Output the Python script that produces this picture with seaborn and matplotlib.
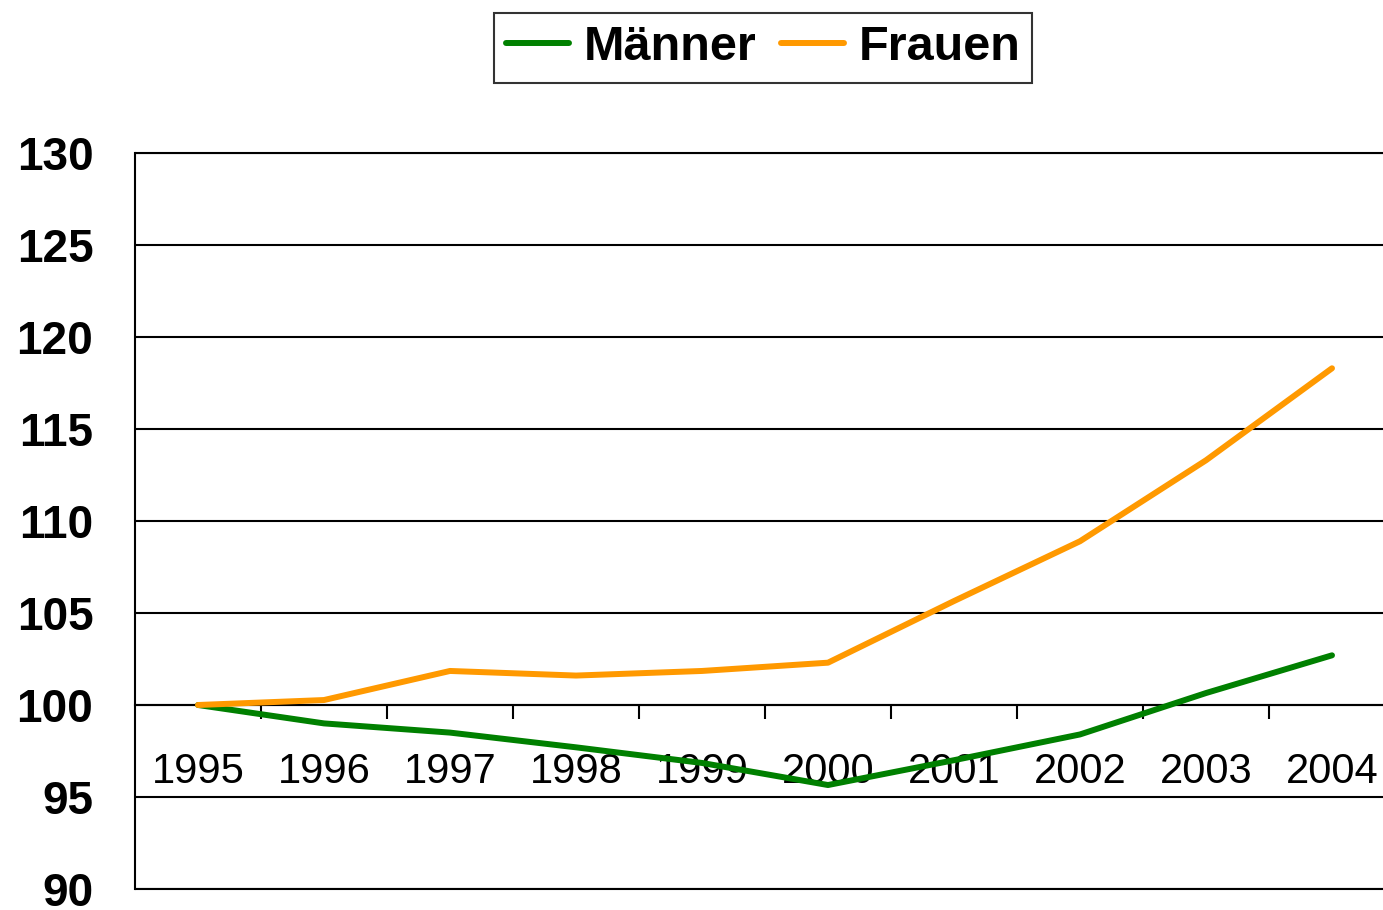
import matplotlib
matplotlib.use("Agg")
import matplotlib.pyplot as plt
import seaborn as sns
import pandas as pd
import numpy as np

years = [1995, 1996, 1997, 1998, 1999, 2000, 2001, 2002, 2003, 2004]
maenner = [100.0, 99.0, 98.5, 97.7, 96.85, 95.65, 97.0, 98.4, 100.65, 102.7]
frauen = [100.0, 100.27, 101.85, 101.6, 101.85, 102.3, 105.65, 108.9, 113.3, 118.3]
series_names = ["Männer", "Frauen"]
colors = ["#008000", "#FF9900"]
y_ticks = [90, 95, 100, 105, 110, 115, 120, 125, 130]

df = pd.DataFrame({
    "Jahr": years * 2,
    "Wert": maenner + frauen,
    "Gruppe": [series_names[0]] * len(years) + [series_names[1]] * len(years),
})

sns.set_style("white")
plt.rcParams["font.family"] = ["Liberation Sans", "DejaVu Sans"]
plt.rcParams["text.color"] = "black"
plt.rcParams["xtick.color"] = "black"
plt.rcParams["ytick.color"] = "black"

fig = plt.figure(figsize=(13.83, 9.10), dpi=100)
ax = fig.add_axes([135 / 1383, 21 / 910, 1260 / 1383, 736 / 910])

sns.lineplot(data=df, x="Jahr", y="Wert", hue="Gruppe", palette=colors,
             hue_order=series_names, linewidth=4.3, ax=ax, legend=False,
             zorder=3)
for l in ax.lines:
    l.set_solid_capstyle("round")

ax.spines["bottom"].set_position(("data", 100))
ax.spines["bottom"].set_linewidth(1.5)
ax.spines["bottom"].set_color("black")
ax.spines["left"].set_linewidth(1.5)
ax.spines["left"].set_color("black")
ax.spines["top"].set_visible(False)
ax.spines["right"].set_visible(False)

ax.set_xlim(years[0] - 0.5, years[-1] + 0.5)
ax.set_ylim(90, 130)
ax.set_yticks(y_ticks)
ax.set_yticklabels([str(v) for v in y_ticks], fontsize=33, fontweight="bold",
                   color="black")
ax.yaxis.grid(True, color="black", linewidth=1.5)
ax.tick_params(axis="y", length=0, pad=30)

ax.set_xticks(years)
ax.set_xticklabels([str(y) for y in years], fontsize=30, color="black")
ax.set_xticks([y + 0.5 for y in years[:-1]], minor=True)
ax.tick_params(axis="x", which="major", length=0, pad=34)
ax.tick_params(axis="x", which="minor", length=10, width=1.5, direction="out",
               color="black", bottom=True)
ax.set_xlabel("")
ax.set_ylabel("")

ax.axhline(90, color="black", linewidth=1.5, clip_on=False, zorder=2)
ax.axhline(130, color="black", linewidth=1.5, clip_on=False, zorder=2)

handles = [plt.Line2D([], [], color=c, linewidth=4.3, solid_capstyle="round") for c in colors]
leg = fig.legend(handles, series_names, loc="center",
                 bbox_to_anchor=(763 / 1383, 1 - 48 / 910), ncol=2,
                 prop={"family": "Liberation Sans", "weight": "bold", "size": 35},
                 frameon=True, fancybox=False, edgecolor="black",
                 handlelength=1.3, handletextpad=0.3, columnspacing=0.5,
                 borderpad=0.25, borderaxespad=0)
leg.get_frame().set_linewidth(1.5)
for t in leg.get_texts():
    t.set_color("black")

fig.savefig("out.png", dpi=100)
